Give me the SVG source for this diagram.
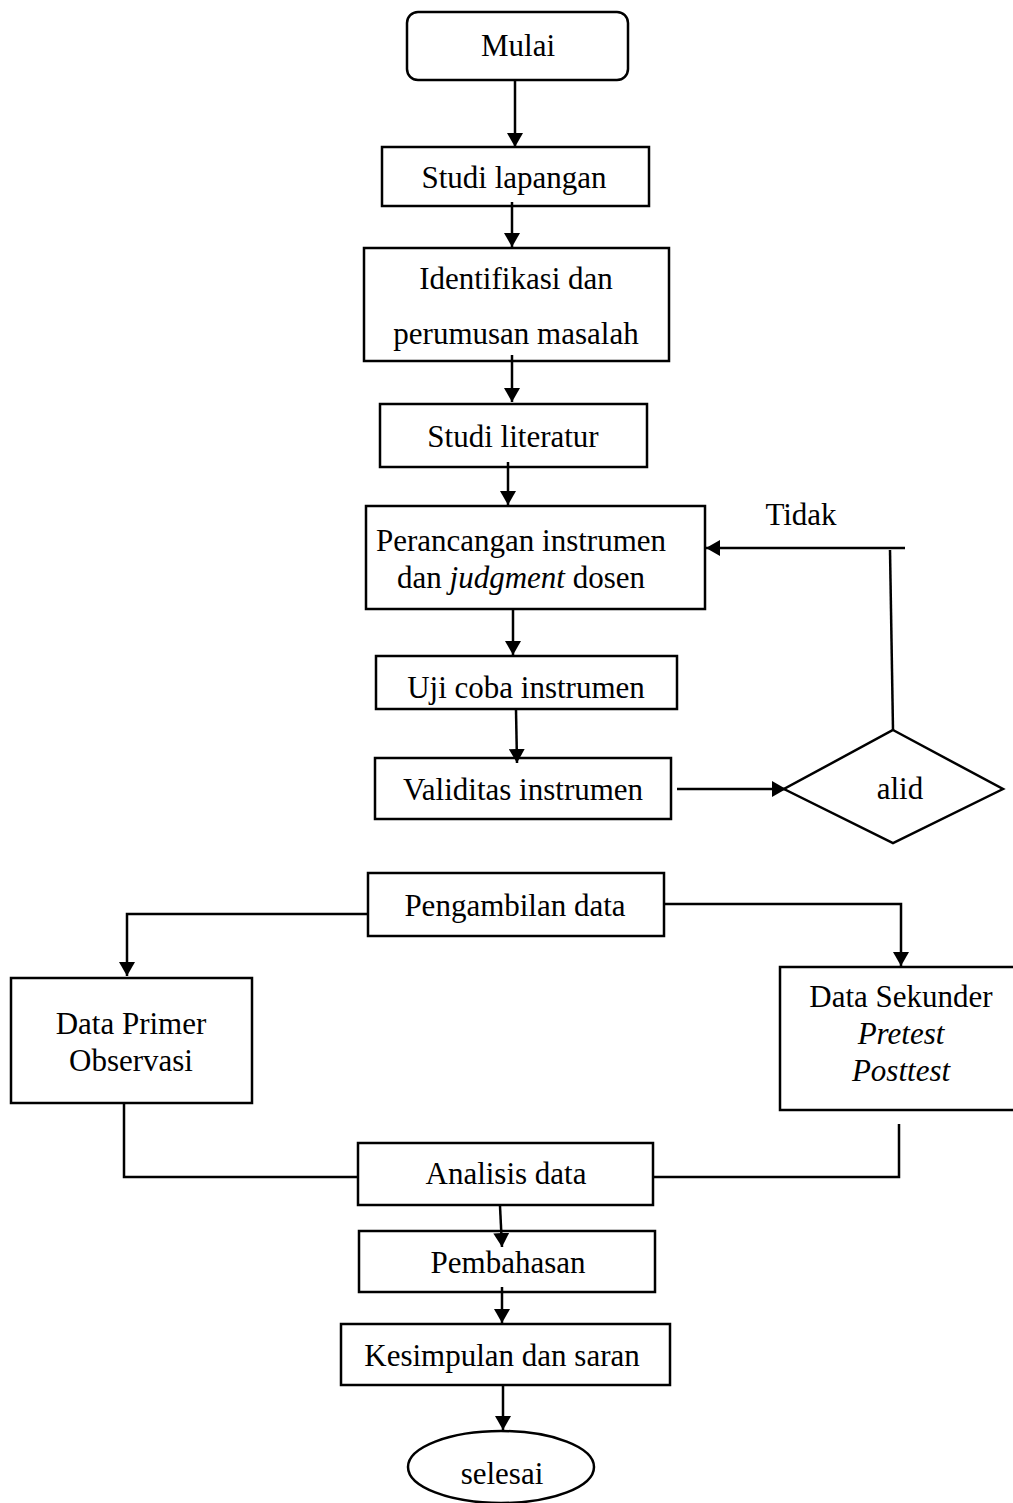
<svg xmlns="http://www.w3.org/2000/svg" width="1013" height="1503" viewBox="0 0 1013 1503">
<style>
.box{fill:#fff;stroke:#000;stroke-width:2.5}
.t{font-family:"Liberation Serif","Times New Roman",serif;font-size:31px;fill:#000;text-anchor:middle}
.ln{fill:none;stroke:#000;stroke-width:2.5}
</style>
<defs>
<marker id="ah" viewBox="0 0 14 16" refX="14" refY="8" markerWidth="14" markerHeight="16" markerUnits="userSpaceOnUse" orient="auto">
<path d="M0,0 L14,8 L0,16 z" fill="#000"/>
</marker>
</defs>
<rect width="1013" height="1503" fill="#fff"/>
<g id="mulai">
<rect class="box" x="407" y="12" width="221" height="68" rx="11"/>
<text class="t" x="518" y="56">Mulai</text>
</g>
<g id="studi-lapangan">
<rect class="box" x="382" y="147" width="267" height="59"/>
<text class="t" x="514" y="188">Studi lapangan</text>
</g>
<g id="identifikasi">
<rect class="box" x="364" y="248" width="305" height="113"/>
<text class="t" x="516" y="289">Identifikasi dan</text>
<text class="t" x="516" y="344">perumusan masalah</text>
</g>
<g id="studi-literatur">
<rect class="box" x="380" y="404" width="267" height="63"/>
<text class="t" x="513" y="447">Studi literatur</text>
</g>
<g id="perancangan">
<rect class="box" x="366" y="506" width="339" height="103"/>
<text class="t" x="521" y="551">Perancangan instrumen</text>
<text class="t" x="521" y="588">dan <tspan font-style="italic">judgment</tspan> dosen</text>
</g>
<g id="uji-coba">
<rect class="box" x="376" y="656" width="301" height="53"/>
<text class="t" x="526" y="698">Uji coba instrumen</text>
</g>
<g id="validitas">
<rect class="box" x="375" y="758" width="296" height="61"/>
<text class="t" x="523" y="800">Validitas instrumen</text>
</g>
<g id="valid">
<polygon class="box" points="893,730 1003,789 893,843 784,789"/>
<text class="t" x="900" y="799">alid</text>
</g>
<g id="tidak-label">
<text class="t" x="801" y="525">Tidak</text>
</g>
<g id="pengambilan">
<rect class="box" x="368" y="873" width="296" height="63"/>
<text class="t" x="515" y="916">Pengambilan data</text>
</g>
<g id="data-primer">
<rect class="box" x="11" y="978" width="241" height="125"/>
<text class="t" x="131" y="1034">Data Primer</text>
<text class="t" x="131" y="1071">Observasi</text>
</g>
<g id="data-sekunder">
<rect class="box" x="780" y="967" width="245" height="143"/>
<text class="t" x="901" y="1007">Data Sekunder</text>
<text class="t" x="901" y="1044" font-style="italic">Pretest</text>
<text class="t" x="901" y="1081" font-style="italic">Posttest</text>
</g>
<g id="analisis">
<rect class="box" x="358" y="1143" width="295" height="62"/>
<text class="t" x="506" y="1184">Analisis data</text>
</g>
<g id="pembahasan">
<rect class="box" x="359" y="1231" width="296" height="61"/>
<text class="t" x="508" y="1273">Pembahasan</text>
</g>
<g id="kesimpulan">
<rect class="box" x="341" y="1324" width="329" height="61"/>
<text class="t" x="502" y="1366">Kesimpulan dan saran</text>
</g>
<g id="selesai">
<ellipse class="box" cx="501" cy="1467" rx="93" ry="36"/>
<text class="t" x="502" y="1484">selesai</text>
</g>
<g id="connectors">
<line class="ln" x1="515" y1="81" x2="515" y2="147" marker-end="url(#ah)"/>
<line class="ln" x1="512" y1="202" x2="512" y2="247" marker-end="url(#ah)"/>
<line class="ln" x1="512" y1="355" x2="512" y2="402" marker-end="url(#ah)"/>
<line class="ln" x1="508" y1="462" x2="508" y2="505" marker-end="url(#ah)"/>
<line class="ln" x1="513" y1="610" x2="513" y2="655" marker-end="url(#ah)"/>
<line class="ln" x1="516" y1="710" x2="517" y2="763" marker-end="url(#ah)"/>
<line class="ln" x1="677" y1="789" x2="786" y2="789" marker-end="url(#ah)"/>
<line class="ln" x1="893" y1="730" x2="890" y2="550"/>
<line class="ln" x1="905" y1="548" x2="706" y2="548" marker-end="url(#ah)"/>
<polyline class="ln" points="368,914 127,914 127,976" marker-end="url(#ah)"/>
<polyline class="ln" points="664,904 901,904 901,966" marker-end="url(#ah)"/>
<polyline class="ln" points="124,1104 124,1177 358,1177"/>
<polyline class="ln" points="899,1124 899,1177 653,1177"/>
<line class="ln" x1="500" y1="1206" x2="502" y2="1247" marker-end="url(#ah)"/>
<line class="ln" x1="502" y1="1287" x2="502" y2="1323" marker-end="url(#ah)"/>
<line class="ln" x1="503" y1="1386" x2="503" y2="1430" marker-end="url(#ah)"/>
</g>
</svg>
